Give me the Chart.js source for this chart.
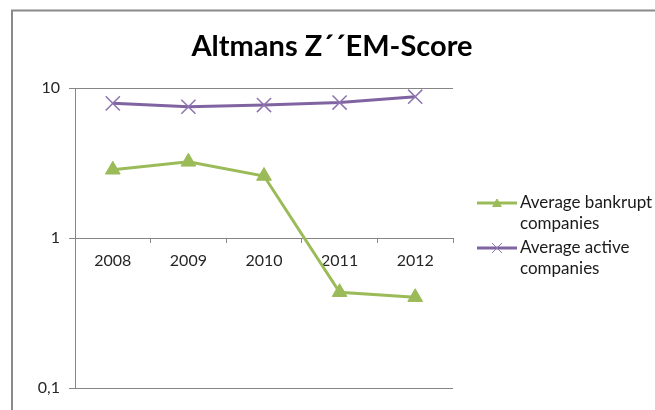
<!DOCTYPE html>
<html>
<head>
<meta charset="utf-8">
<script src="https://cdn.jsdelivr.net/npm/chart.js@4/dist/chart.umd.min.js"></script>
<style>
  html, body { margin: 0; padding: 0; background: #fff; }
  #wrap { width: 655px; height: 410px; position: relative; }
</style>
</head>
<body>
<div id="wrap"><canvas id="c" width="655" height="410"></canvas></div>
<script>
const chartTitle = 'Altmans Z\u00B4\u00B4EM-Score';
const categories = ['2008', '2009', '2010', '2011', '2012'];
const seriesNames = [['Average bankrupt', 'companies'], ['Average active', 'companies']];
const bankrupt = [2.85, 3.22, 2.59, 0.435, 0.403];
const active = [7.9, 7.5, 7.7, 8.0, 8.75];
const yTickValues = [0.1, 1, 10];
const yTickLabels = ['0,1', '1', '10'];

const GREEN = '#9BBB59';
const PURPLE = '#8064A2';
const GRID = '#868686';
const FONT = 'Lato, "Open Sans", sans-serif';

const framePlugin = {
  id: 'frame',
  beforeDraw(chart) {
    const ctx = chart.ctx;
    ctx.save();
    ctx.fillStyle = '#fff';
    ctx.fillRect(0, 0, chart.width, chart.height);
    ctx.strokeStyle = '#8a8a8a';
    ctx.lineWidth = 2;
    ctx.strokeRect(12, 10.5, 700, 500);
    ctx.restore();
  },
  afterDraw(chart) {
    const ctx = chart.ctx;
    ctx.save();
    ctx.fillStyle = '#000';
    ctx.font = 'bold 29px ' + FONT;
    ctx.textAlign = 'center';
    ctx.textBaseline = 'middle';
    ctx.fillText(chartTitle, 332, 47);
    ctx.restore();
  }
};

const legendPlugin = {
  id: 'customLegend',
  afterDraw(chart) {
    const ctx = chart.ctx;
    const x0 = chart.chartArea.right + 24;
    const rows = [203, 248];
    chart.data.datasets.forEach((ds, i) => {
      const y = rows[i];
      ctx.save();
      ctx.strokeStyle = ds.borderColor;
      ctx.lineWidth = 3;
      ctx.beginPath();
      ctx.moveTo(x0, y);
      ctx.lineTo(x0 + 40, y);
      ctx.stroke();
      ctx.fillStyle = ds.pointBackgroundColor;
      ctx.strokeStyle = ds.pointBorderColor;
      ctx.lineWidth = 1;
      Chart.helpers.drawPoint(ctx, {
        pointStyle: ds.pointStyle,
        radius: i === 0 ? 5 : 7,
        borderWidth: 1
      }, x0 + 20, y + (i === 0 ? 1 : 0));
      ctx.fillStyle = '#1a1a1a';
      ctx.font = '17px ' + FONT;
      ctx.textBaseline = 'middle';
      ctx.textAlign = 'left';
      seriesNames[i].forEach((line, k) => {
        ctx.fillText(line, x0 + 43, y + k * 20.5);
      });
      ctx.restore();
    });
  }
};

new Chart(document.getElementById('c'), {
  type: 'line',
  data: {
    labels: categories,
    datasets: [
      {
        label: seriesNames[0].join(' '),
        data: bankrupt,
        borderColor: GREEN,
        backgroundColor: GREEN,
        pointBackgroundColor: GREEN,
        pointBorderColor: GREEN,
        borderWidth: 3,
        pointStyle: 'triangle',
        pointRadius: 8.5,
        pointBorderWidth: 1,
        tension: 0
      },
      {
        label: seriesNames[1].join(' '),
        data: active,
        borderColor: PURPLE,
        backgroundColor: PURPLE,
        pointBackgroundColor: PURPLE,
        pointBorderColor: '#8d74b0',
        borderWidth: 3,
        pointStyle: 'crossRot',
        pointRadius: 10,
        pointBorderWidth: 1.5,
        tension: 0
      }
    ]
  },
  options: {
    responsive: false,
    animation: false,
    devicePixelRatio: 1,
    layout: { padding: { left: 0, right: 202, top: 88, bottom: 22 } },
    plugins: {
      legend: { display: false },
      tooltip: { enabled: false },
      title: { display: false }
    },
    scales: {
      y: {
        type: 'logarithmic',
        min: 0.1,
        max: 10,
        afterBuildTicks(scale) {
          scale.ticks = yTickValues.map(v => ({ value: v }));
        },
        afterFit(scale) { scale.width = 75; },
        ticks: {
          color: '#262626',
          font: { family: FONT, size: 16 },
          padding: 9,
          callback(value) {
            const i = yTickValues.indexOf(value);
            return i >= 0 ? yTickLabels[i] : '';
          }
        },
        grid: { color: GRID, lineWidth: 1, tickLength: 6 },
        border: { color: GRID, width: 1 }
      },
      x: {
        type: 'category',
        position: { y: 1 },
        offset: true,
        ticks: {
          color: '#262626',
          font: { family: FONT, size: 16 },
          padding: 9,
          maxRotation: 0
        },
        grid: { drawOnChartArea: false, drawTicks: true, tickLength: 4, color: GRID, offset: true },
        border: { color: GRID, width: 1 }
      }
    }
  },
  plugins: [framePlugin, legendPlugin]
});
</script>
</body>
</html>
